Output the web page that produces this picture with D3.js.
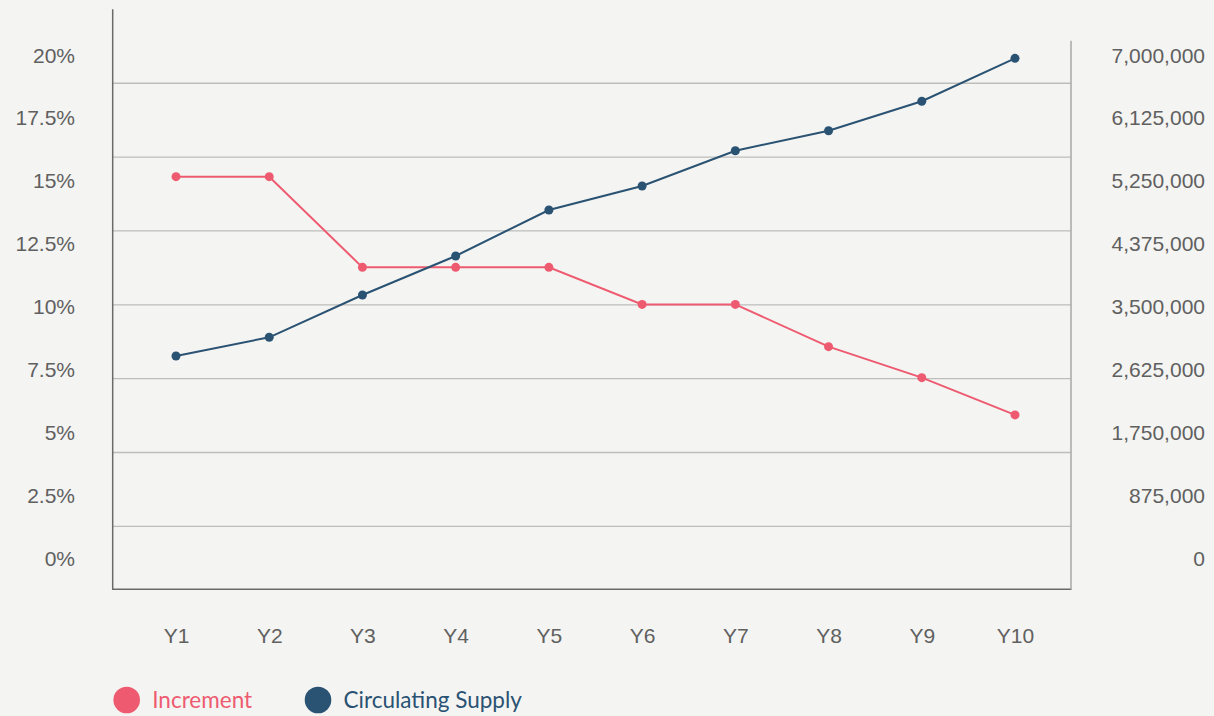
<!DOCTYPE html>
<html>
<head>
<meta charset="utf-8">
<script src="https://cdn.jsdelivr.net/npm/d3@7"></script>
<style>
  html, body { margin: 0; padding: 0; background: #f4f4f2; }
  .tick text { font-family: "Liberation Sans", Arial, sans-serif; font-size: 21px; fill: #606060; }
  .legend text { font-family: "Lato", "Noto Sans", sans-serif; font-size: 22.5px; }
</style>
</head>
<body>
<div id="chart"></div>
<script>
(function () {

  // data
  var years = ["Y1", "Y2", "Y3", "Y4", "Y5", "Y6", "Y7", "Y8", "Y9", "Y10"];
  var increment = [15.18, 15.18, 11.58, 11.58, 11.58, 10.11, 10.11, 8.43, 7.2, 5.72];
  var supply = [2821000, 3081000, 3669000, 4211000, 4850000, 5184000, 5674000, 5952000, 6361000, 6958000];
  var pctTicks = [0, 2.5, 5, 7.5, 10, 12.5, 15, 17.5, 20];
  var supplyTicks = [0, 875000, 1750000, 2625000, 3500000, 4375000, 5250000, 6125000, 7000000];
  var seriesNames = ["Increment", "Circulating Supply"];
  var colors = ["#ee5b70", "#2a5272"];

  var w = 1214, h = 716;

  var svg = d3.select("#chart")
    .append("svg")
    .attr("width", w)
    .attr("height", h)
    .style("display", "block");

  var x = d3.scalePoint()
    .domain(years)
    .range([176, 1015]);

  var yLeft = d3.scaleLinear()
    .domain([0, 20])
    .range([559, 55.3]);

  var yRight = d3.scaleLinear()
    .domain([0, 7000000])
    .range([559, 55.3]);

  // gridlines sit on their own spacing in the original
  var grid = d3.scaleLinear()
    .domain([0, 8])
    .range([600.2, 9.4]);

  svg.selectAll(".grid")
    .data(d3.range(1, 8))
    .enter()
    .append("line")
    .attr("class", "grid")
    .attr("x1", 113)
    .attr("x2", 1071)
    .attr("y1", function(d){ return grid(d) })
    .attr("y2", function(d){ return grid(d) })
    .style("stroke", "#bdbdbb")
    .style("stroke-width", 1.3)

  // frame lines
  svg.append("line")
    .attr("x1", 112.7).attr("x2", 112.7)
    .attr("y1", 9.3).attr("y2", 589.5)
    .style("stroke", "#6a6a6a").style("stroke-width", 1.5)

  svg.append("line")
    .attr("x1", 112).attr("x2", 1071.5)
    .attr("y1", 589.3).attr("y2", 589.3)
    .style("stroke", "#6a6a6a").style("stroke-width", 1.5)

  svg.append("line")
    .attr("x1", 1071).attr("x2", 1071)
    .attr("y1", 40.7).attr("y2", 589.5)
    .style("stroke", "#a8a8a8").style("stroke-width", 1.5)

  // axes (labels only)
  var leftAxis = svg.append("g")
    .attr("transform", "translate(75,0)")
    .call(d3.axisLeft(yLeft)
      .tickValues(pctTicks)
      .tickSize(0)
      .tickPadding(0)
      .tickFormat(function(d){ return d + "%" }))
  leftAxis.select(".domain").remove()

  var rightAxis = svg.append("g")
    .attr("transform", "translate(1205,0)")
    .call(d3.axisRight(yRight)
      .tickValues(supplyTicks)
      .tickSize(0)
      .tickPadding(0)
      .tickFormat(d3.format(",")))
  rightAxis.select(".domain").remove()
  rightAxis.selectAll("text").attr("text-anchor", "end").attr("x", 0)

  var bottomAxis = svg.append("g")
    .attr("transform", "translate(0,628)")
    .call(d3.axisBottom(x).tickSize(0).tickPadding(0))
  bottomAxis.select(".domain").remove()

  // lines
  var incLine = d3.line()
    .x(function(d, i){ return x(years[i]) })
    .y(function(d){ return yLeft(d) })

  var supLine = d3.line()
    .x(function(d, i){ return x(years[i]) })
    .y(function(d){ return yRight(d) })

  svg.append("path")
    .datum(increment)
    .attr("d", incLine)
    .style("fill", "none")
    .style("stroke", colors[0])
    .style("stroke-width", 2)

  svg.append("path")
    .datum(supply)
    .attr("d", supLine)
    .style("fill", "none")
    .style("stroke", colors[1])
    .style("stroke-width", 2)

  svg.selectAll(".incDot")
    .data(increment)
    .enter()
    .append("circle")
    .attr("class", "incDot")
    .attr("cx", function(d, i){ return x(years[i]) })
    .attr("cy", function(d){ return yLeft(d) })
    .attr("r", 4.5)
    .style("fill", colors[0])

  svg.selectAll(".supDot")
    .data(supply)
    .enter()
    .append("circle")
    .attr("class", "supDot")
    .attr("cx", function(d, i){ return x(years[i]) })
    .attr("cy", function(d){ return yRight(d) })
    .attr("r", 4.5)
    .style("fill", colors[1])

  // legend
  var legendX = [126.7, 318];
  var legend = svg.selectAll(".legend")
    .data(seriesNames)
    .enter()
    .append("g")
    .attr("class", "legend")
    .attr("transform", function(d, i){ return "translate(" + legendX[i] + ",700)" })

  legend.append("circle")
    .attr("r", 13.3)
    .style("fill", function(d, i){ return colors[i] })

  legend.append("text")
    .attr("x", 25.5)
    .attr("y", 7.5)
    .text(function(d){ return d })
    .style("fill", function(d, i){ return colors[i] })

})()
</script>
</body>
</html>
